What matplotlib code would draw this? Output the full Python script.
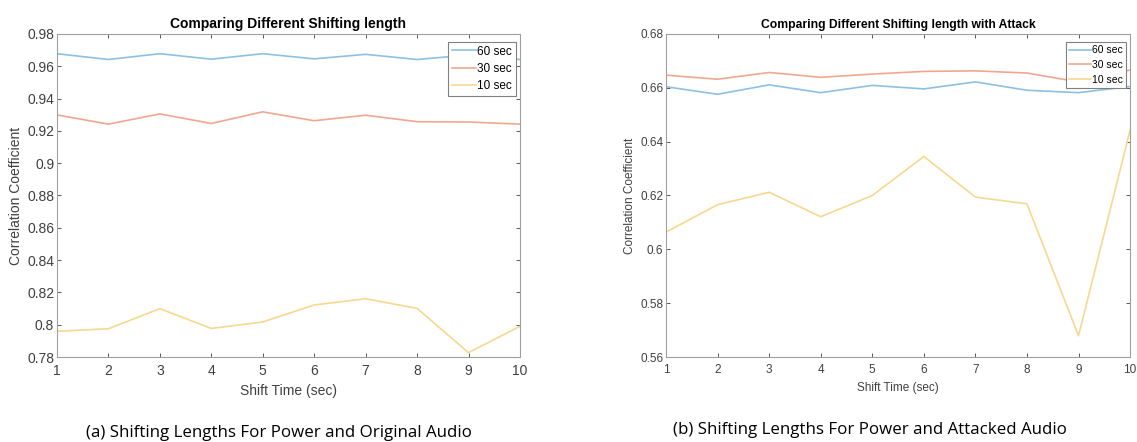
import numpy as np
import matplotlib.pyplot as plt
from matplotlib.ticker import FuncFormatter, MultipleLocator

plt.rcParams['font.family'] = ['Liberation Sans', 'DejaVu Sans']

shift_time = [1, 2, 3, 4, 5, 6, 7, 8, 9, 10]
series_names = ['60 sec', '30 sec', '10 sec']

# correlation with the original audio
orig_60 = [0.9678, 0.9642, 0.9678, 0.9644, 0.9678, 0.9646, 0.9674, 0.9642, 0.9670, 0.9642]
orig_30 = [0.9299, 0.9242, 0.9305, 0.9246, 0.9318, 0.9263, 0.9297, 0.9257, 0.9255, 0.9242]
orig_10 = [0.7959, 0.7975, 0.8099, 0.7977, 0.8017, 0.8122, 0.8161, 0.8101, 0.7827, 0.7990]

# correlation with the attacked audio
att_60 = [0.6604, 0.6576, 0.6611, 0.6582, 0.6609, 0.6596, 0.6622, 0.6591, 0.6582, 0.6605]
att_30 = [0.6647, 0.6632, 0.6657, 0.6639, 0.6651, 0.6661, 0.6663, 0.6655, 0.6622, 0.6666]
att_10 = [0.6064, 0.6166, 0.6212, 0.6121, 0.6200, 0.6345, 0.6194, 0.6169, 0.5679, 0.6442]

colors = ['#8cc0e4', '#efa88e', '#f7d890']

fig = plt.figure(figsize=(11.37, 4.42), dpi=100)
ax1 = fig.add_axes([0.0501, 0.1923, 0.4072, 0.7308])
ax2 = fig.add_axes([0.5858, 0.1923, 0.4081, 0.7308])


def style_axes(ax, ylim, title, fs, tfs, lfs, lsp):
    ax.set_xlim(1, 10)
    ax.set_ylim(*ylim)
    ax.xaxis.set_major_locator(MultipleLocator(1))
    ax.yaxis.set_major_locator(MultipleLocator(0.02))
    ax.yaxis.set_major_formatter(FuncFormatter(lambda v, p: '%g' % round(v, 4)))
    ax.tick_params(direction='in', top=True, right=True, labelsize=fs,
                   colors='#404040', length=3, width=0.6)
    ax.tick_params(axis='x', pad=5)
    ax.tick_params(axis='y', pad=2)
    for s in ax.spines.values():
        s.set_color('#a0a0a0')
        s.set_linewidth(0.8)
    ax.set_title(title, fontsize=tfs, fontweight='bold', pad=4)
    ax.set_xlabel('Shift Time (sec)', fontsize=fs, color='#404040', labelpad=4)
    ax.set_ylabel('Correlation Coefficient', fontsize=fs, color='#404040', labelpad=3)
    leg = ax.legend(loc='upper right', bbox_to_anchor=(0.991, 0.975), fontsize=lfs,
                    handlelength=2.1, borderpad=0.3, labelspacing=lsp, handletextpad=0.1,
                    fancybox=False, framealpha=1, borderaxespad=0)
    leg.get_frame().set_edgecolor('#808080')
    leg.get_frame().set_linewidth(0.8)


for ys, c, n in zip([orig_60, orig_30, orig_10], colors, series_names):
    ax1.plot(shift_time, ys, color=c, lw=1.2, label=n)
style_axes(ax1, (0.78, 0.98), 'Comparing Different Shifting length', 10, 10, 8.5, 0.45)

for ys, c, n in zip([att_60, att_30, att_10], colors, series_names):
    ax2.plot(shift_time, ys, color=c, lw=1.2, label=n)
style_axes(ax2, (0.56, 0.68), 'Comparing Different Shifting length with Attack', 8.5, 8.7, 7.5, 0.45)

fig.text(0.245, 0.011, '(a) Shifting Lengths For Power and Original Audio',
         ha='center', fontsize=12.2, family=['Open Sans', 'DejaVu Sans'])
fig.text(0.765, 0.017, '(b) Shifting Lengths For Power and Attacked Audio',
         ha='center', fontsize=12.2, family=['Open Sans', 'DejaVu Sans'])

fig.savefig('out.png', dpi=100)
